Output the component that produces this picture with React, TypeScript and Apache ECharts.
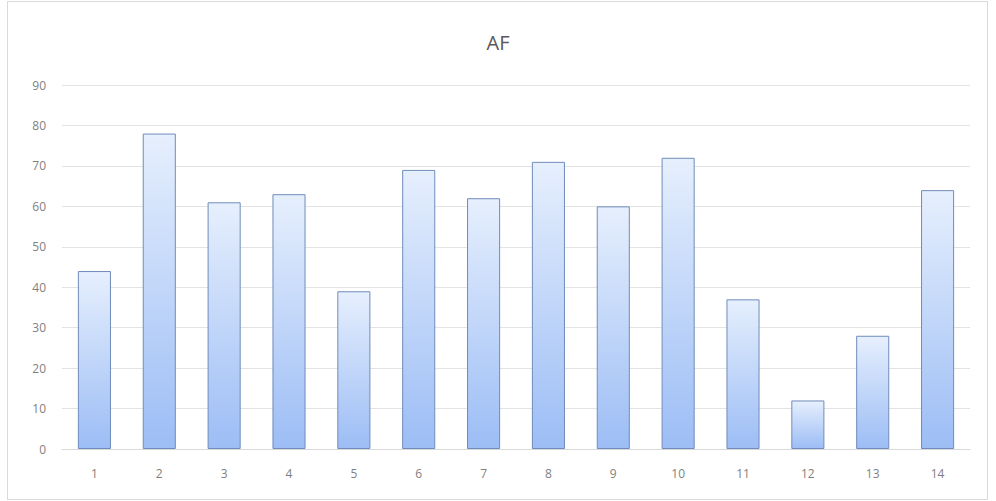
import React, { useEffect, useRef } from "react";
import * as echarts from "echarts";

const categories = ["1", "2", "3", "4", "5", "6", "7", "8", "9", "10", "11", "12", "13", "14"];
const values = [44, 78, 61, 63, 39, 69, 62, 71, 60, 72, 37, 12, 28, 64];
const titleText = "AF";

export default function App() {
  const ref = useRef<HTMLDivElement>(null);
  useEffect(() => {
    const chart = echarts.init(ref.current!, undefined, { renderer: "svg" });
    chart.setOption({
      animation: false,
      backgroundColor: "#ffffff",
      textStyle: { fontFamily: "Open Sans" },
      title: {
        text: titleText,
        left: "center",
        top: 27,
        textStyle: { fontSize: 20, fontWeight: "normal", color: "#595959", fontFamily: "Open Sans" },
      },
      graphic: [
        {
          type: "rect",
          shape: { x: 7.5, y: 1.5, width: 980, height: 498 },
          style: { fill: "none", stroke: "#d9d9d9", lineWidth: 1 },
          silent: true,
          z: -1,
        },
      ],
      grid: { left: 62, right: 26, top: 85, bottom: 52 },
      xAxis: {
        type: "category",
        data: categories,
        axisLine: { show: true, lineStyle: { color: "#d9d9d9" } },
        axisTick: { show: false },
        axisLabel: { color: "#7f7f7f", fontSize: 12, margin: 18 },
      },
      yAxis: {
        type: "value",
        min: 0,
        max: 90,
        interval: 10,
        axisLine: { show: false },
        axisTick: { show: false },
        axisLabel: { color: "#7f7f7f", fontSize: 12, margin: 16 },
        splitLine: { lineStyle: { color: "#e3e3e3" } },
      },
      series: [
        {
          type: "bar",
          data: values,
          barCategoryGap: "49%",
          itemStyle: {
            color: new echarts.graphic.LinearGradient(0, 0, 0, 1, [
              { offset: 0, color: "#e6effd" },
              { offset: 1, color: "#9cbdf5" },
            ]),
            borderColor: "#6f8cba",
            borderWidth: 1,
          },
        },
      ],
    });
    return () => chart.dispose();
  }, []);
  return (
    <div
      ref={ref}
      style={{ position: "absolute", left: 0, top: 0, width: 996, height: 501 }}
    />
  );
}
